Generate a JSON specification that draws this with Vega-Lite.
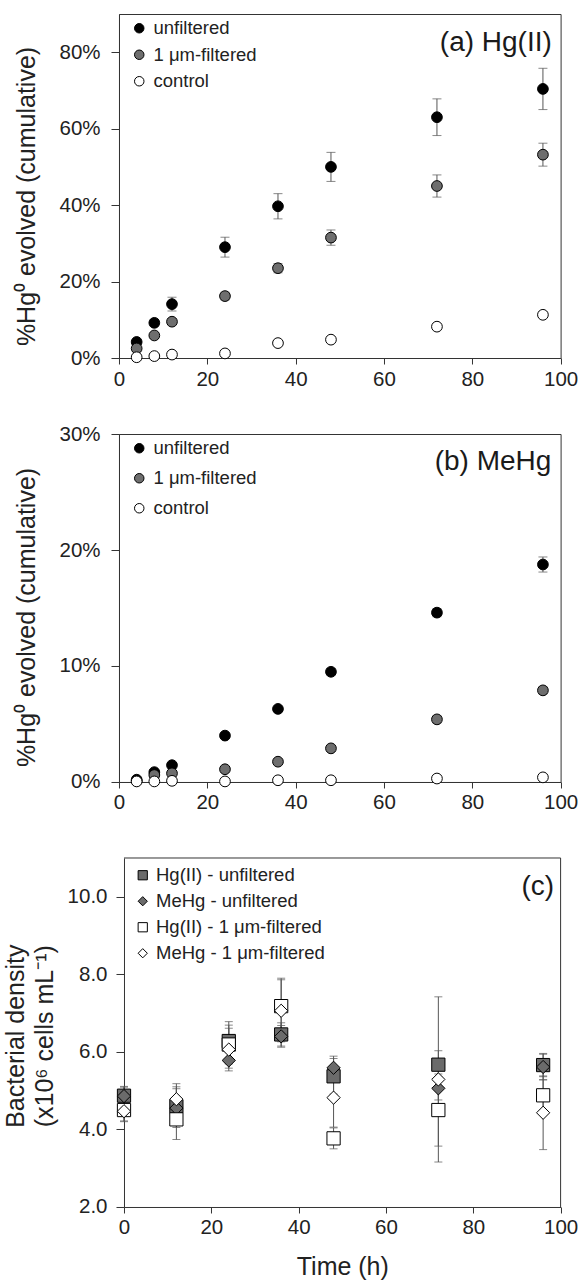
{
  "$schema": "https://vega.github.io/schema/vega-lite/v6.json",
  "background": "white",
  "padding": {"left": 4, "top": 13, "right": 4, "bottom": 2},
  "spacing": 76,
  "bounds": "flush",
  "datasets": {
    "hgii": [
      {"t": 4, "grp": "unfiltered", "v": 4.2, "e": 0.7},
      {"t": 8, "grp": "unfiltered", "v": 9.2, "e": 0.9},
      {"t": 12, "grp": "unfiltered", "v": 14.1, "e": 1.8},
      {"t": 24, "grp": "unfiltered", "v": 29.0, "e": 2.6},
      {"t": 36, "grp": "unfiltered", "v": 39.7, "e": 3.3},
      {"t": 48, "grp": "unfiltered", "v": 50.0, "e": 3.8},
      {"t": 72, "grp": "unfiltered", "v": 63.0, "e": 4.8},
      {"t": 96, "grp": "unfiltered", "v": 70.4, "e": 5.4},
      {"t": 4, "grp": "1 μm-filtered", "v": 2.5, "e": 0.5},
      {"t": 8, "grp": "1 μm-filtered", "v": 5.9, "e": 0.6},
      {"t": 12, "grp": "1 μm-filtered", "v": 9.5, "e": 0.8},
      {"t": 24, "grp": "1 μm-filtered", "v": 16.2, "e": 1.0},
      {"t": 36, "grp": "1 μm-filtered", "v": 23.5, "e": 1.2},
      {"t": 48, "grp": "1 μm-filtered", "v": 31.5, "e": 2.0},
      {"t": 72, "grp": "1 μm-filtered", "v": 45.0, "e": 2.9},
      {"t": 96, "grp": "1 μm-filtered", "v": 53.2, "e": 3.0},
      {"t": 4, "grp": "control", "v": 0.2, "e": 0.1},
      {"t": 8, "grp": "control", "v": 0.5, "e": 0.2},
      {"t": 12, "grp": "control", "v": 0.9, "e": 0.2},
      {"t": 24, "grp": "control", "v": 1.2, "e": 0.3},
      {"t": 36, "grp": "control", "v": 3.9, "e": 0.5},
      {"t": 48, "grp": "control", "v": 4.8, "e": 0.5},
      {"t": 72, "grp": "control", "v": 8.2, "e": 0.6},
      {"t": 96, "grp": "control", "v": 11.3, "e": 0.7}
    ],
    "mehg": [
      {"t": 4, "grp": "unfiltered", "v": 0.2, "e": 0.05},
      {"t": 8, "grp": "unfiltered", "v": 0.85, "e": 0.1},
      {"t": 12, "grp": "unfiltered", "v": 1.45, "e": 0.15},
      {"t": 24, "grp": "unfiltered", "v": 4.0, "e": 0.2},
      {"t": 36, "grp": "unfiltered", "v": 6.3, "e": 0.25},
      {"t": 48, "grp": "unfiltered", "v": 9.5, "e": 0.3},
      {"t": 72, "grp": "unfiltered", "v": 14.6, "e": 0.35},
      {"t": 96, "grp": "unfiltered", "v": 18.75, "e": 0.65},
      {"t": 4, "grp": "1 μm-filtered", "v": 0.1, "e": 0.05},
      {"t": 8, "grp": "1 μm-filtered", "v": 0.6, "e": 0.1},
      {"t": 12, "grp": "1 μm-filtered", "v": 0.75, "e": 0.1},
      {"t": 24, "grp": "1 μm-filtered", "v": 1.1, "e": 0.15},
      {"t": 36, "grp": "1 μm-filtered", "v": 1.75, "e": 0.2},
      {"t": 48, "grp": "1 μm-filtered", "v": 2.9, "e": 0.25},
      {"t": 72, "grp": "1 μm-filtered", "v": 5.4, "e": 0.3},
      {"t": 96, "grp": "1 μm-filtered", "v": 7.9, "e": 0.3},
      {"t": 4, "grp": "control", "v": 0.05, "e": 0.02},
      {"t": 8, "grp": "control", "v": 0.05, "e": 0.02},
      {"t": 12, "grp": "control", "v": 0.1, "e": 0.02},
      {"t": 24, "grp": "control", "v": 0.05, "e": 0.02},
      {"t": 36, "grp": "control", "v": 0.15, "e": 0.03},
      {"t": 48, "grp": "control", "v": 0.15, "e": 0.03},
      {"t": 72, "grp": "control", "v": 0.3, "e": 0.05},
      {"t": 96, "grp": "control", "v": 0.4, "e": 0.05}
    ],
    "cells": [
      {"t": 0, "grp": "Hg(II) - unfiltered", "v": 4.87, "e": 0.22},
      {"t": 12, "grp": "Hg(II) - unfiltered", "v": 4.6, "e": 0.5},
      {"t": 24, "grp": "Hg(II) - unfiltered", "v": 6.28, "e": 0.5},
      {"t": 36, "grp": "Hg(II) - unfiltered", "v": 6.45, "e": 0.3},
      {"t": 48, "grp": "Hg(II) - unfiltered", "v": 5.37, "e": 0.46},
      {"t": 72, "grp": "Hg(II) - unfiltered", "v": 5.67, "e": 0.36},
      {"t": 96, "grp": "Hg(II) - unfiltered", "v": 5.66, "e": 0.3},
      {"t": 0, "grp": "MeHg - unfiltered", "v": 4.86, "e": 0.25},
      {"t": 12, "grp": "MeHg - unfiltered", "v": 4.55, "e": 0.5},
      {"t": 24, "grp": "MeHg - unfiltered", "v": 5.78, "e": 0.2},
      {"t": 36, "grp": "MeHg - unfiltered", "v": 6.4, "e": 0.28},
      {"t": 48, "grp": "MeHg - unfiltered", "v": 5.59, "e": 0.3},
      {"t": 72, "grp": "MeHg - unfiltered", "v": 5.06, "e": 0.3},
      {"t": 96, "grp": "MeHg - unfiltered", "v": 5.61, "e": 0.33},
      {"t": 0, "grp": "Hg(II) - 1 μm-filtered", "v": 4.5, "e": 0.3},
      {"t": 12, "grp": "Hg(II) - 1 μm-filtered", "v": 4.26, "e": 0.52},
      {"t": 24, "grp": "Hg(II) - 1 μm-filtered", "v": 6.19, "e": 0.5},
      {"t": 36, "grp": "Hg(II) - 1 μm-filtered", "v": 7.18, "e": 0.72},
      {"t": 48, "grp": "Hg(II) - 1 μm-filtered", "v": 3.77, "e": 0.27},
      {"t": 72, "grp": "Hg(II) - 1 μm-filtered", "v": 4.5, "e": 0.93},
      {"t": 96, "grp": "Hg(II) - 1 μm-filtered", "v": 4.88, "e": 0.4},
      {"t": 0, "grp": "MeHg - 1 μm-filtered", "v": 4.47, "e": 0.25},
      {"t": 12, "grp": "MeHg - 1 μm-filtered", "v": 4.78, "e": 0.4},
      {"t": 24, "grp": "MeHg - 1 μm-filtered", "v": 6.06, "e": 0.55},
      {"t": 36, "grp": "MeHg - 1 μm-filtered", "v": 7.06, "e": 0.8},
      {"t": 48, "grp": "MeHg - 1 μm-filtered", "v": 4.82, "e": 0.76},
      {"t": 72, "grp": "MeHg - 1 μm-filtered", "v": 5.29, "e": 2.13},
      {"t": 96, "grp": "MeHg - 1 μm-filtered", "v": 4.43, "e": 0.95}
    ]
  },
  "vconcat": [
    {
      "width": 441.6,
      "height": 344,
      "layer": [
        {
          "data": {"name": "hgii"},
          "encoding": {
            "x": {"field": "t", "type": "quantitative", "scale": {"domain": [0, 100], "nice": false},
                  "axis": {"values": [0, 20, 40, 60, 80, 100], "tickSize": 6, "labelPadding": 5, "title": null}},
            "y": {"field": "v", "type": "quantitative", "scale": {"domain": [0, 90], "nice": false},
                  "axis": {"values": [0, 20, 40, 60, 80], "tickSize": 8, "labelPadding": 11, "labelExpr": "datum.value + '%'",
                           "title": "%Hg⁰ evolved (cumulative)", "titleAngle": 270, "titleBaseline": "bottom", "titleAlign": "center",
                           "titleX": -79, "titleY": 182}}
          },
          "layer": [
            {
              "mark": {"type": "errorbar", "color": "#555", "thickness": 1, "ticks": {"size": 9, "thickness": 1, "color": "#555"}},
              "encoding": {"yError": {"field": "e"}, "detail": {"field": "grp"}}
            },
            {
              "mark": {"type": "point", "shape": "circle", "filled": true, "stroke": "#000", "strokeWidth": 1, "size": 115, "opacity": 1},
              "encoding": {
                "fill": {"field": "grp", "type": "nominal",
                         "scale": {"domain": ["unfiltered", "1 μm-filtered", "control"], "range": ["#000000", "#6e6e6e", "#ffffff"]},
                         "legend": {"title": null, "orient": "none", "legendX": 11, "legendY": 5, "symbolType": "circle",
                                    "symbolSize": 90, "rowPadding": 7.5, "labelOffset": 5}}
              }
            }
          ]
        },
        {
          "data": {"values": [{}]},
          "mark": {"type": "text", "align": "right", "baseline": "alphabetic", "fontSize": 28, "font": "Liberation Sans", "color": "#1a1a1a"},
          "encoding": {"x": {"datum": 98, "type": "quantitative"}, "y": {"datum": 80.4, "type": "quantitative"}, "text": {"value": "(a) Hg(II)"}}
        }
      ]
    },
    {
      "width": 441.6,
      "height": 348,
      "layer": [
        {
          "data": {"name": "mehg"},
          "encoding": {
            "x": {"field": "t", "type": "quantitative", "scale": {"domain": [0, 100], "nice": false},
                  "axis": {"values": [0, 20, 40, 60, 80, 100], "tickSize": 6, "labelPadding": 5, "title": null}},
            "y": {"field": "v", "type": "quantitative", "scale": {"domain": [0, 30], "nice": false},
                  "axis": {"values": [0, 10, 20, 30], "tickSize": 8, "labelPadding": 11, "labelExpr": "datum.value + '%'",
                           "title": "%Hg⁰ evolved (cumulative)", "titleAngle": 270, "titleBaseline": "bottom", "titleAlign": "center",
                           "titleX": -79, "titleY": 183}}
          },
          "layer": [
            {
              "mark": {"type": "errorbar", "color": "#555", "thickness": 1, "ticks": {"size": 9, "thickness": 1, "color": "#555"}},
              "encoding": {"yError": {"field": "e"}, "detail": {"field": "grp"}}
            },
            {
              "mark": {"type": "point", "shape": "circle", "filled": true, "stroke": "#000", "strokeWidth": 1, "size": 115, "opacity": 1},
              "encoding": {
                "fill": {"field": "grp", "type": "nominal",
                         "scale": {"domain": ["unfiltered", "1 μm-filtered", "control"], "range": ["#000000", "#6e6e6e", "#ffffff"]},
                         "legend": {"title": null, "orient": "none", "legendX": 11, "legendY": 5, "symbolType": "circle",
                                    "symbolSize": 90, "rowPadding": 11, "labelOffset": 5}}
              }
            }
          ]
        },
        {
          "data": {"values": [{}]},
          "mark": {"type": "text", "align": "right", "baseline": "alphabetic", "fontSize": 28, "font": "Liberation Sans", "color": "#1a1a1a"},
          "encoding": {"x": {"datum": 97.9, "type": "quantitative"}, "y": {"datum": 26.9, "type": "quantitative"}, "text": {"value": "(b) MeHg"}}
        }
      ]
    },
    {
      "width": 441.6,
      "height": 349,
      "view": {"stroke": null},
      "layer": [
        {
          "data": {"name": "cells"},
          "encoding": {
            "x": {"field": "t", "type": "quantitative", "scale": {"domain": [0, 100], "nice": false, "range": [5, 441.6]},
                  "axis": {"values": [0, 20, 40, 60, 80, 100], "tickSize": 6, "labelPadding": 5, "title": "Time (h)", "titlePadding": 16}},
            "y": {"field": "v", "type": "quantitative", "scale": {"domain": [2, 11], "nice": false, "zero": false},
                  "axis": {"values": [2, 4, 6, 8, 10], "format": ".1f", "tickSize": 8, "labelPadding": 9, "offset": -5,
                           "title": ["Bacterial density", "(x10⁶ cells mL⁻¹)"], "titleLineHeight": 29,
                           "titleAngle": 270, "titleBaseline": "bottom", "titleAlign": "center",
                           "titleX": -95, "titleY": 177.7}}
          },
          "layer": [
            {
              "mark": {"type": "errorbar", "color": "#555", "thickness": 1, "ticks": {"size": 8, "thickness": 1, "color": "#555"}},
              "encoding": {"yError": {"field": "e"}, "detail": {"field": "grp"}}
            },
            {
              "mark": {"type": "point", "filled": true, "stroke": "#000", "strokeWidth": 1, "size": 175, "opacity": 1},
              "encoding": {
                "fill": {"field": "grp", "type": "nominal",
                         "scale": {"domain": ["Hg(II) - unfiltered", "MeHg - unfiltered", "Hg(II) - 1 μm-filtered", "MeHg - 1 μm-filtered"],
                                   "range": ["#6b6b6b", "#6b6b6b", "#ffffff", "#ffffff"]},
                         "legend": {"title": null, "orient": "none", "legendX": 14.5, "legendY": 8, "symbolSize": 85,
                                    "rowPadding": 7, "labelOffset": 4,
                                    "encode": {"symbols": {"update": {"stroke": {"value": "#000"}, "strokeWidth": {"value": 1}}}}}},
                "shape": {"field": "grp", "type": "nominal",
                          "scale": {"domain": ["Hg(II) - unfiltered", "MeHg - unfiltered", "Hg(II) - 1 μm-filtered", "MeHg - 1 μm-filtered"],
                                    "range": ["square", "diamond", "square", "diamond"]},
                          "legend": {"title": null, "orient": "none", "legendX": 14.5, "legendY": 8, "symbolSize": 85,
                                     "rowPadding": 7, "labelOffset": 4,
                                     "encode": {"symbols": {"update": {"stroke": {"value": "#000"}, "strokeWidth": {"value": 1}}}}}}
              }
            }
          ]
        },
        {
          "data": {"values": [{}]},
          "mark": {"type": "rule", "color": "#333", "strokeWidth": 1},
          "encoding": {"x": {"datum": 0, "type": "quantitative"}, "x2": {"datum": 100}, "y": {"datum": 11, "type": "quantitative"}}
        },
        {
          "data": {"values": [{}]},
          "mark": {"type": "rule", "color": "#333", "strokeWidth": 1},
          "encoding": {"x": {"datum": 100, "type": "quantitative"}, "y": {"datum": 2, "type": "quantitative"}, "y2": {"datum": 11}}
        },
        {
          "data": {"values": [{}]},
          "mark": {"type": "text", "align": "right", "baseline": "alphabetic", "fontSize": 28, "font": "Liberation Sans", "color": "#1a1a1a"},
          "encoding": {"x": {"datum": 98.5, "type": "quantitative"}, "y": {"datum": 10.05, "type": "quantitative"}, "text": {"value": "(c)"}}
        }
      ]
    }
  ],
  "resolve": {
    "scale": {"x": "independent", "y": "independent", "fill": "independent", "shape": "independent"},
    "legend": {"fill": "independent", "shape": "independent"}
  },
  "config": {
    "font": "Liberation Sans",
    "view": {"stroke": "#333", "strokeWidth": 1},
    "axis": {
      "grid": false, "labelFlush": false, "labelOverlap": false,
      "labelFont": "Liberation Sans", "labelFontSize": 20.5, "labelColor": "#222",
      "domainColor": "#333", "tickColor": "#333", "domainWidth": 1, "tickWidth": 1,
      "titleFont": "Liberation Sans", "titleFontSize": 25, "titleFontWeight": "normal", "titleColor": "#222"
    },
    "legend": {
      "labelFont": "Liberation Sans", "labelFontSize": 18.5, "labelColor": "#222", "labelLimit": 400,
      "symbolStrokeColor": "#000", "symbolStrokeWidth": 1, "symbolOpacity": 1, "padding": 0
    }
  }
}
